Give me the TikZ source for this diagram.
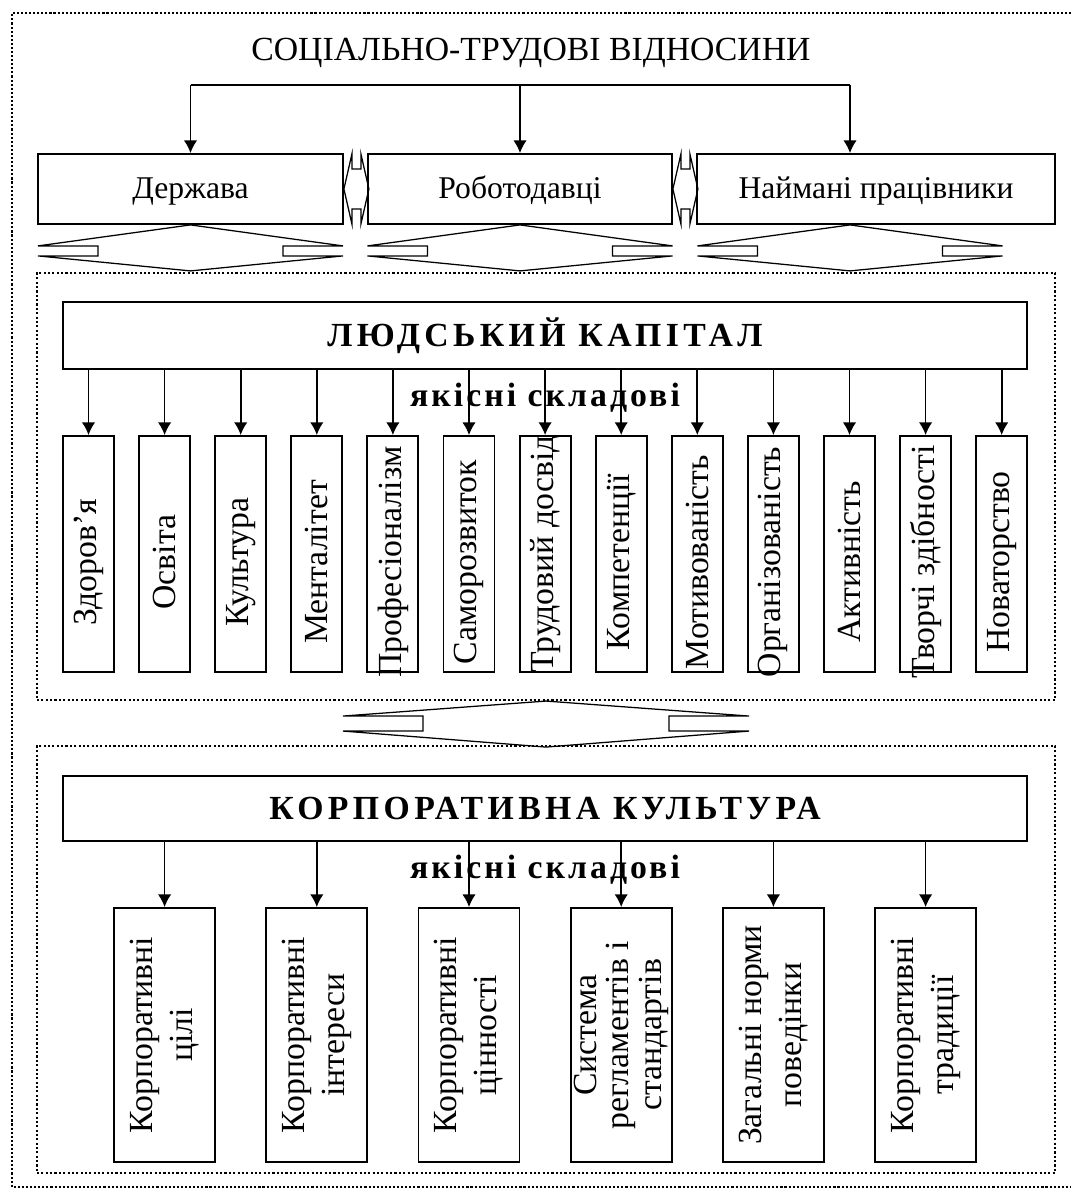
\documentclass[tikz,border=0pt]{standalone}
\usepackage{fontspec}
\setmainfont{Liberation Serif}
\usepackage{tikz}
\usetikzlibrary{arrows.meta,positioning,calc}
\newlength{\pxu}
\setlength{\pxu}{0.025cm}
\newcommand{\vtxt}[1]{\makebox[0pt]{#1\hspace*{16\pxu}}}
% horizontal two-way link: apex, half width, stub top, stub bottom, height, stub length
\newcommand{\hlink}[6]{%
  \draw[link] #1 -- ++(-#2,#3) -- ++(#6,0) -- ++(0,{#4-#3}) -- ++(-#6,0)
    -- ++(#2,{#5-#4}) -- ++(#2,{#4-#5}) -- ++(-#6,0) -- ++(0,{#3-#4}) -- ++(#6,0) -- cycle;}
% vertical two-way link: left apex, half height, stub left, stub right, width, stub length
\newcommand{\vlink}[6]{%
  \draw[link] #1 -- ++(#3,-#2) -- ++(0,#6) -- ++({#4-#3},0) -- ++(0,-#6)
    -- ++({#5-#4},#2) -- ++({#4-#5},#2) -- ++(0,-#6) -- ++({#3-#4},0) -- ++(0,#6) -- cycle;}
\begin{document}
\begin{tikzpicture}[
    x=0.025cm, y=-0.025cm,
    >={Latex[length=9pt,width=9.5pt]},
    every node/.style={font=\fontsize{22.5}{26}\selectfont},
    box/.style ={rectangle,draw,line width=1.3pt,inner sep=0pt,align=center},
    topbox/.style={box,minimum height=70\pxu,text height=15pt,text depth=2pt},
    capbox/.style={box,minimum width=964\pxu,minimum height=67\pxu,
                   font=\bfseries\fontsize{24}{28}\selectfont\addfontfeature{LetterSpace=13}},
    hcbox/.style={box,rotate=90,minimum width=236\pxu,minimum height=51\pxu,
                  font=\fontsize{24}{28}\selectfont},
    ccbox/.style={box,rotate=90,minimum width=254\pxu,minimum height=101\pxu,
                  font=\fontsize{24}{28.5}\selectfont},
    frame/.style={draw,line width=1.5pt,dash pattern=on 1.5pt off 1.6pt,
                  minimum width=1018\pxu,minimum height=427\pxu,inner sep=0pt},
    outer/.style={line width=1.5pt,dash pattern=on 1.5pt off 1.4pt},
    arr/.style={->,line width=1.2pt},
    link/.style={line width=0.9pt},
    lab/.style={font=\bfseries\fontsize{24}{28}\selectfont\addfontfeature{LetterSpace=9}}
  ]
  \useasboundingbox (0,0) rectangle (1072,1195);
  \draw[outer] (1071,13) -- (12,13) -- (12,1187) -- (1071,1187);
  %% Top: the three parties
  \node[font=\fontsize{24}{28}\selectfont] (title) at (531,53) {СОЦІАЛЬНО-ТРУДОВІ ВІДНОСИНИ};
  \node[topbox,minimum width=305\pxu] (D) at (190.5,189) {Держава};
  \node[topbox,minimum width=304\pxu] (R) at (520,189) {Роботодавці};
  \node[topbox,minimum width=358\pxu] (N) at (876,189) {Наймані працівники};
  \coordinate (busL) at (190.5,85);
  \coordinate (busR) at (850,85);
  \draw[line width=1.2pt] (busL) -- (busR);
  \draw[arr] (busL) -- (D);
  \draw[arr] (busL -| R) -- (R);
  \draw[arr] (busR) -- (busR |- N.north);
  \vlink{(D.east)}{35}{8}{17}{25}{15}
  \vlink{(R.east)}{35}{8}{17}{25}{15}
  \hlink{(D.south)}{152.5}{21}{31}{46}{60}
  \hlink{(R.south)}{152.5}{21}{31}{46}{60}
  \hlink{(busR |- N.south)}{152.5}{21}{31}{46}{60}
  %% Middle: human capital
  \node[frame] (HCF) at (546,486.5) {};
  \node[capbox] (HC) at (545,335.5) {ЛЮДСЬКИЙ КАПІТАЛ};
  \node[lab] (HClab) at (545,398) {якісні складові};
  \node[hcbox] (h1)  at (88.5,554)  {\vtxt{Здоров’я}};
  \node[hcbox] (h2)  at (164.6,554) {\vtxt{Освіта}};
  \node[hcbox] (h3)  at (240.7,554) {\vtxt{Культура}};
  \node[hcbox] (h4)  at (316.8,554) {\vtxt{Менталітет}};
  \node[hcbox] (h5)  at (392.9,554) {\vtxt{Професіоналізм}};
  \node[hcbox] (h6)  at (469.0,554) {\vtxt{Саморозвиток}};
  \node[hcbox] (h7)  at (545.1,554) {\makebox[0pt]{Трудовий досвід}};
  \node[hcbox] (h8)  at (621.2,554) {\vtxt{Компетенції}};
  \node[hcbox] (h9)  at (697.3,554) {\vtxt{Мотивованість}};
  \node[hcbox] (h10) at (773.4,554) {\vtxt{Організованість}};
  \node[hcbox] (h11) at (849.5,554) {\vtxt{Активність}};
  \node[hcbox] (h12) at (925.6,554) {\vtxt{Творчі здібності}};
  \node[hcbox] (h13) at (1001.7,554) {\vtxt{Новаторство}};
  \draw[arr] (HC.south -| h1) -- (h1);
  \draw[arr] (HC.south -| h2) -- (h2);
  \draw[arr] (HC.south -| h3) -- (h3);
  \draw[arr] (HC.south -| h4) -- (h4);
  \draw[arr] (HC.south -| h5) -- (h5);
  \draw[arr] (HC.south -| h6) -- (h6);
  \draw[arr] (HC.south -| h7) -- (h7);
  \draw[arr] (HC.south -| h8) -- (h8);
  \draw[arr] (HC.south -| h9) -- (h9);
  \draw[arr] (HC.south -| h10) -- (h10);
  \draw[arr] (HC.south -| h11) -- (h11);
  \draw[arr] (HC.south -| h12) -- (h12);
  \draw[arr] (HC.south -| h13) -- (h13);
  \hlink{(HCF.south)}{203}{15}{30}{46}{80}
  %% Bottom: corporate culture
  \node[frame] (CCF) at (546,959.5) {};
  \node[capbox,minimum height=65\pxu] (CC) at (545,808.5) {КОРПОРАТИВНА КУЛЬТУРА};
  \node[lab] (CClab) at (545,870) {якісні складові};
  \node[ccbox] (c1) at (164.6,1035) {Корпоративні\\цілі};
  \node[ccbox] (c2) at (316.8,1035) {Корпоративні\\інтереси};
  \node[ccbox] (c3) at (469.0,1035) {Корпоративні\\цінності};
  \node[ccbox,font=\fontsize{24}{23}\selectfont] (c4) at (621.2,1035) {Система\\регламентів і\\стандартів};
  \node[ccbox] (c5) at (773.4,1035) {Загальні норми\\поведінки};
  \node[ccbox] (c6) at (925.6,1035) {Корпоративні\\традиції};
  \draw[arr] (CC.south -| c1) -- (c1);
  \draw[arr] (CC.south -| c2) -- (c2);
  \draw[arr] (CC.south -| c3) -- (c3);
  \draw[arr] (CC.south -| c4) -- (c4);
  \draw[arr] (CC.south -| c5) -- (c5);
  \draw[arr] (CC.south -| c6) -- (c6);
\end{tikzpicture}
\end{document}
